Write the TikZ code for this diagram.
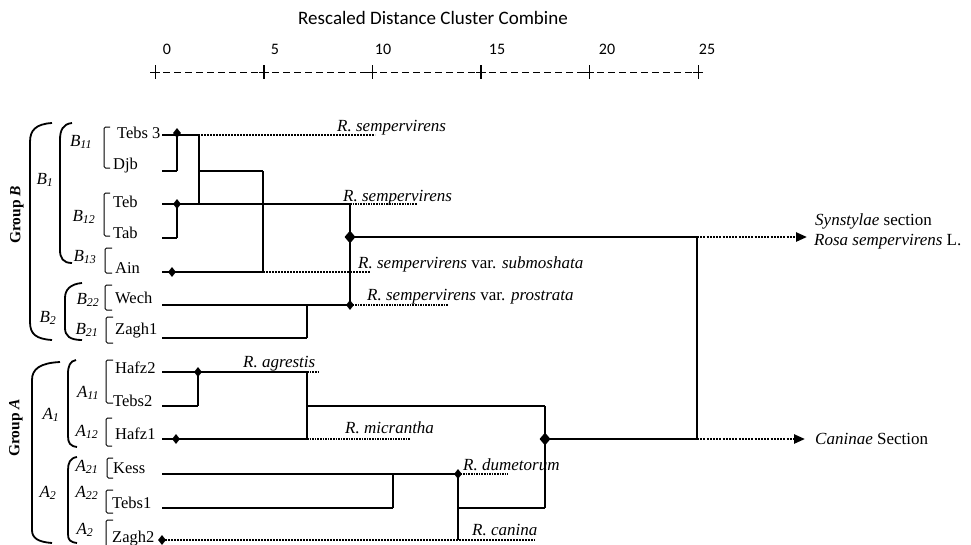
\documentclass[tikz,border=0pt]{standalone}
\usepackage{fontspec}
\setmainfont{Liberation Serif}
\newfontfamily\carl{Carlito}
\usetikzlibrary{shapes.geometric,arrows.meta}
\begin{document}
\begin{tikzpicture}[x=1pt,y=-1pt,
  leafline/.style={line width=1.6pt},
  vline/.style={line width=1.1pt},
  thickline/.style={line width=2.8pt},
  dotline/.style={line width=2.4pt, dash pattern=on 2pt off 1pt},
  uline/.style={line width=1.6pt, dash pattern=on 1.6pt off 1pt},
  arrowline/.style={line width=2.4pt, dash pattern=on 2pt off 1.2pt, -{Triangle[length=11pt,width=9pt]}},
  dmd/.style={diamond, fill=black, inner sep=0pt, minimum width=8pt, minimum height=10pt},
  bigdmd/.style={diamond, fill=black, inner sep=0pt, minimum width=11pt, minimum height=13pt},
  leaf/.style={anchor=base west, font=\fontsize{16.5}{16.5}\selectfont, inner sep=0pt},
  sp/.style={anchor=base west, font=\fontsize{17}{17}\selectfont\itshape, inner sep=0pt},
  sub/.style={font=\fontsize{17}{17}\selectfont\itshape, inner sep=0pt},
  grp/.style={font=\fontsize{15.5}{15.5}\selectfont\bfseries, inner sep=0pt, rotate=90},
  brace/.style={line width=1.8pt},
  lbr/.style={line width=1pt, rounded corners=1.5pt},
  tick/.style={line width=1pt},
  axdash/.style={line width=1pt, dash pattern=on 7pt off 4pt},
  axlab/.style={font=\carl\fontsize{16}{16}\selectfont, inner sep=0pt},
]
\useasboundingbox (0,0) rectangle (971,544);
\fill[white] (0,0) rectangle (971,544);

% ---- scale ----
\node[font=\carl\fontsize{19}{19}\selectfont, inner sep=0pt] (title) at (433,18) {Rescaled Distance Cluster Combine};
\foreach \p/\l/\lx/\w in {155/0/167/1pt, 264/5/275/1.6pt, 372/10/383/1pt, 481/15/497/1.6pt, 589/20/607/1pt, 698/25/707/1pt}{
  \draw[line width=\w] (\p,65) -- (\p,79);
  \draw[tick] (\p-5,72) -- (\p+5,72);
  \node[axlab] (s\l) at (\lx,49) {\l};
}
\foreach \p in {155,264,372,481,589}{
  \draw[axdash] (\p+8,72) -- (\p+103,72);
}

% ---- leaf labels ----
\node[leaf] (tebs3) at (117,138) {Tebs 3};
\node[leaf] (djb)   at (113,169) {Djb};
\node[leaf] (teb)   at (113,207) {Teb};
\node[leaf] (tab)   at (113,238) {Tab};
\node[leaf] (ain)   at (115,273) {Ain};
\node[leaf] (wech)  at (115,303) {Wech};
\node[leaf] (zagh1) at (115,334) {Zagh1};
\node[leaf] (hafz2) at (115,373) {Hafz2};
\node[leaf] (tebs2) at (113,406) {Tebs2};
\node[leaf] (hafz1) at (115,439) {Hafz1};
\node[leaf] (kess)  at (113,473) {Kess};
\node[leaf] (tebs1) at (112,508) {Tebs1};
\node[leaf] (zagh2) at (112,542) {Zagh2};

% ---- leaf brackets ----
\draw[lbr] (110,127) -- (104,127) -- (104,168) -- (110,168);
\draw[lbr] (110,193) -- (104,193) -- (104,236) -- (110,236);
\draw[lbr] (112,248) -- (105,248) -- (105,273) -- (112,273);
\draw[lbr] (112,285) -- (105,285) -- (105,310) -- (112,310);
\draw[lbr] (113,317) -- (106,317) -- (106,343) -- (113,343);
\draw[lbr] (113,360) -- (106,360) -- (106,403) -- (113,403);
\draw[lbr] (112,418) -- (106,418) -- (106,446) -- (112,446);
\draw[lbr] (113,458) -- (107,458) -- (107,478) -- (113,478);
\draw[lbr] (113,490) -- (106,490) -- (106,513) -- (113,513);
\draw[lbr] (113,520) -- (106,520) -- (106,548) -- (113,548);

% ---- subgroup labels ----
\node[sub] (b11) at (81,142) {B\textsubscript{11}};
\node[sub] (b1)  at (45,180) {B\textsubscript{1}};
\node[sub] (b12) at (84,217) {B\textsubscript{12}};
\node[sub] (b13) at (85,257) {B\textsubscript{13}};
\node[sub] (b22) at (88,300) {B\textsubscript{22}};
\node[sub] (b2)  at (48,318) {B\textsubscript{2}};
\node[sub] (b21) at (87,330) {B\textsubscript{21}};
\node[sub] (a11) at (88,393) {A\textsubscript{11}};
\node[sub] (a1)  at (51,415) {A\textsubscript{1}};
\node[sub] (a12) at (87,432) {A\textsubscript{12}};
\node[sub] (a21) at (87,467) {A\textsubscript{21}};
\node[sub] (a2)  at (48,493) {A\textsubscript{2}};
\node[sub] (a22) at (87,493) {A\textsubscript{22}};
\node[sub] (a2b) at (85,530) {A\textsubscript{2}};
\node[grp] (grpB) at (17,215) {Group \textit{B}};
\node[grp] (grpA) at (16,428) {Group \textit{A}};

% ---- braces ----
\draw[brace] (52,123) .. controls (36,124) and (30,130) .. (30,142) -- (30,322) .. controls (30,334) and (36,339) .. (52,340);
\draw[brace] (72,123) .. controls (63,124) and (60,130) .. (60,140) -- (60,250) .. controls (60,258) and (63,263) .. (72,263);
\draw[brace] (82,283) .. controls (70,284) and (65,290) .. (65,298) -- (65,328) .. controls (65,336) and (70,340) .. (82,340);
\draw[brace] (60,362) .. controls (40,363) and (32,369) .. (32,380) -- (32,530) .. controls (32,538) and (38,542) .. (52,543);
\draw[brace] (76,360) .. controls (70,361) and (68,366) .. (68,374) -- (68,436) .. controls (68,443) and (70,446) .. (77,447);
\draw[brace] (77,457) .. controls (70,458) and (68,463) .. (68,470) -- (68,534) .. controls (68,540) and (70,542) .. (77,543);

% ---- dendrogram: group B ----
\draw[thickline] (162,135) -- (199,135);
\draw[dotline] (177,135) -- (375,135);
\draw[leafline] (162,171) -- (177,171);
\draw[vline] (177,135) -- (177,171);
\node[dmd] (d1) at (177,133) {};
\draw[vline] (199,135) -- (199,204);
\draw[leafline] (199,171) -- (263,171);

\draw[leafline] (162,204) -- (350,204);
\draw[dotline] (177,204) -- (263,204);
\draw[thickline] (263,204) -- (350,204);
\draw[uline] (350,204) -- (417,204);
\draw[leafline] (162,238) -- (177,238);
\draw[vline] (177,204) -- (177,238);
\node[dmd] (d2) at (177,204) {};

\draw[leafline] (162,272) -- (172,272);
\draw[thickline] (172,272) -- (263,272);
\draw[dotline] (263,272) -- (370,272);
\node[dmd] (d3) at (172,272) {};
\draw[vline] (263,171) -- (263,272);

\draw[leafline] (162,305) -- (350,305);
\draw[uline] (350,305) -- (448,305);
\node[dmd] (d4) at (350,305) {};
\draw[leafline] (162,338) -- (307,338);
\draw[vline] (307,305) -- (307,338);
\draw[vline] (350,204) -- (350,305);

\draw[thickline] (350,237) -- (697,237);
\node[bigdmd] (D1) at (350,237) {};

% ---- dendrogram: group A ----
\draw[leafline] (162,372) -- (307,372);
\draw[uline] (198,372) -- (320,372);
\node[dmd] (d5) at (198,372) {};
\draw[leafline] (162,406) -- (198,406);
\draw[vline] (198,372) -- (198,406);

\draw[thickline] (162,439) -- (307,439);
\draw[uline] (307,439) -- (410,439);
\node[dmd] (d6) at (176,439) {};
\draw[vline] (307,372) -- (307,439);
\draw[leafline] (307,406) -- (545,406);

\draw[leafline] (162,474) -- (458,474);
\draw[uline] (458,474) -- (508,474);
\node[dmd] (d7) at (458,474) {};
\draw[leafline] (162,508) -- (393,508);
\draw[vline] (393,474) -- (393,508);
\draw[dotline] (162,540) -- (535,540);
\node[dmd] (d8) at (162,540) {};
\draw[vline] (458,474) -- (458,540);
\draw[leafline] (458,508) -- (545,508);
\draw[line width=2.2pt] (545,406) -- (545,508);

\draw[thickline] (545,439) -- (697,439);
\node[bigdmd] (D2) at (545,439) {};

\draw[vline] (697,237) -- (697,439);
\coordinate (e1) at (807,237);
\coordinate (e2) at (805,439);
\draw[arrowline] (697,237) -- (e1);
\draw[arrowline] (697,439) -- (e2);

% ---- species labels ----
\node[sp] (l1) at (337,131) {R. sempervirens};
\node[sp] (l2) at (343,201) {R. sempervirens};
\node[sp] (l3) at (358,268) {R. sempervirens {\upshape var.} submoshata};
\node[sp] (l4) at (367,300) {R. sempervirens {\upshape var.} prostrata};
\node[sp] (l5) at (243,367) {R. agrestis};
\node[sp] (l6) at (345,433) {R. micrantha};
\node[sp] (l7) at (463,470) {R. dumetorum};
\node[sp] (l8) at (472,535) {R. canina};
\node[sp] (r1) at (815,225) {Synstylae {\upshape section}};
\node[sp] (r2) at (814,245) {Rosa sempervirens {\upshape L.}};
\node[sp] (r3) at (815,444) {Caninae {\upshape Section}};
\end{tikzpicture}
\end{document}
